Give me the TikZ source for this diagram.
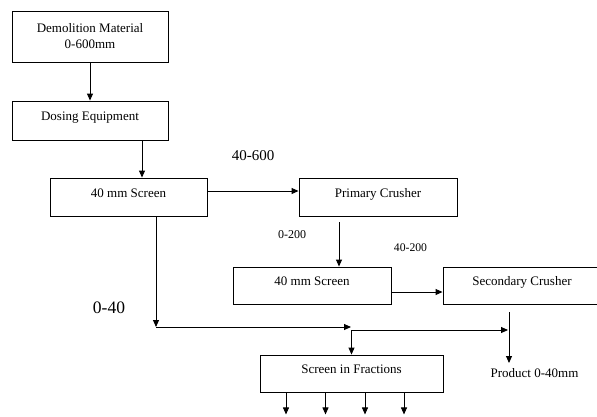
\documentclass[tikz,border=0pt]{standalone}
\usepackage{fontspec}
\setmainfont{Liberation Serif}
\usetikzlibrary{arrows.meta,calc}
\begin{document}
\begin{tikzpicture}[x=1pt,y=-1pt,
  boxbase/.style={draw, line width=0.9pt, inner sep=0pt, font=\fontsize{13}{16}\selectfont},
  box/.style={boxbase, text height=9pt, text depth=8.4pt},
  arr/.style={line width=0.9pt, -{Triangle[length=7pt,width=6pt]}},
  lbl/.style={inner sep=0pt}]
\useasboundingbox (0,0) rectangle (597,416);
\clip (0,0) rectangle (597,416);
% boxes
\node[boxbase, minimum width=156pt, minimum height=51pt, align=center] (dem) at (90,36.5) {Demolition Material\\0-600mm};
\node[box, minimum width=156pt, minimum height=39pt] (dos) at (90,120.5) {Dosing Equipment};
\node[box, minimum width=157pt, minimum height=38pt] (scr1) at (128.5,197) {40 mm Screen};
\node[box, minimum width=158pt, minimum height=38pt] (prim) at (378,197) {Primary Crusher};
\node[box, minimum width=158pt, minimum height=37pt] (scr2) at (312,285.5) {40 mm Screen};
\node[box, minimum width=158pt, minimum height=37pt] (sec) at (522,285.5) {Secondary Crusher};
\node[box, minimum width=183pt, minimum height=37pt] (frac) at (351.5,373.5) {Screen in Fractions};
% labels
\node[lbl, font=\fontsize{15}{18}\selectfont] (l1) at (253,156) {40-600};
\node[lbl, font=\fontsize{12}{14}\selectfont] (l2) at (292,235) {0-200};
\node[lbl, font=\fontsize{11.7}{14}\selectfont] (l3) at (410.5,248) {40-200};
\node[lbl, font=\fontsize{17.5}{20}\selectfont] (l4) at (109,308) {0-40};
\node[lbl, font=\fontsize{13}{16}\selectfont] (prod) at (534.5,373) {Product 0-40mm};
% junction coordinates
\coordinate (j1) at (156,327);
\coordinate (j2) at (351,327);
\coordinate (j3) at (351.5,330);
\coordinate (j4) at (508,330);
\coordinate (pend) at (509,363);
% connectors
\draw[arr] (dem) -- (dos);
\draw[arr] ([xshift=52pt]dos.south) -- ([xshift=52pt]dos.south |- scr1.north);
\draw[arr] ([yshift=6pt]scr1.east) -- ([yshift=6pt]prim.west);
\draw[arr] ([xshift=-39pt,yshift=-6pt]prim.south) -- ([xshift=-39pt]prim.south |- scr2.north);
\draw[arr] ([yshift=-6.5pt]scr2.east) -- ([yshift=-6.5pt]sec.west);
\draw[arr] ([xshift=27.5pt]scr1.south) -- (j1);
\draw[arr] (j1) -- (j2);
\draw[arr] (j3) -- (j4);
\draw[arr] (j3) -- (frac.north);
\draw[arr] ([xshift=-13pt,yshift=-8pt]sec.south) -- (pend);
\foreach \dx in {-65.5,-26,13.5,52.5}
  \draw[arr] ([xshift=\dx pt]frac.south) -- ++(0,22);
\end{tikzpicture}
\end{document}
